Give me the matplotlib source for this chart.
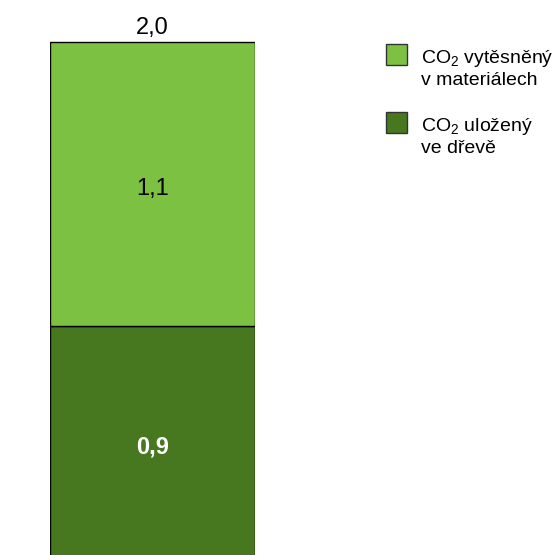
import matplotlib
matplotlib.use("Agg")
import matplotlib.pyplot as plt
from matplotlib.patches import Rectangle

plt.rcParams['font.family'] = ['Liberation Sans', 'DejaVu Sans']
plt.rcParams['mathtext.fontset'] = 'custom'
plt.rcParams['mathtext.rm'] = 'Liberation Sans'
plt.rcParams['mathtext.it'] = 'Liberation Sans'

categories = [["CO$_2$ uložený", "ve dřevě"], ["CO$_2$ vytěsněný", "v materiálech"]]
values = [0.9, 1.1]
value_labels = ["0,9", "1,1"]
total_label = "2,0"
colors = ["#47781f", "#7cc142"]
label_colors = ["white", "black"]
label_weights = ["bold", "normal"]

fig = plt.figure(figsize=(5.55, 5.55), dpi=100)
ax = fig.add_axes([50/555, 0, 205/555, 1])

bottom = 0
for v, lab, c, tc, w in zip(values, value_labels, colors, label_colors, label_weights):
    ax.bar(0, v, bottom=bottom, width=1, color=c, edgecolor="black", linewidth=1)
    ax.text(0, bottom + v/2 - 0.043, lab, ha="center", va="baseline", color=tc,
            fontsize=17, fontweight=w)
    bottom += v
ax.text(0, bottom + 0.031, total_label, ha="center", va="baseline", fontsize=17)

ax.set_xlim(-0.5, 0.5)
ax.set_ylim(0.013, 2.163)
ax.axis("off")

# legend drawn by hand, top entry first
leg_tops = [112, 44]
for lines, c, top in zip(categories, colors, leg_tops):
    fig.patches.append(Rectangle((386/555, 1 - (top + 21)/555), 21/555, 21/555,
                                 transform=fig.transFigure, facecolor=c,
                                 edgecolor="#333333", linewidth=1))
    base = top + 19
    for i, line in enumerate(lines):
        fig.text(421/555, 1 - (base + 22*i)/555, line, ha="left", va="baseline",
                 fontsize=14)

fig.savefig("out.png", dpi=100)
